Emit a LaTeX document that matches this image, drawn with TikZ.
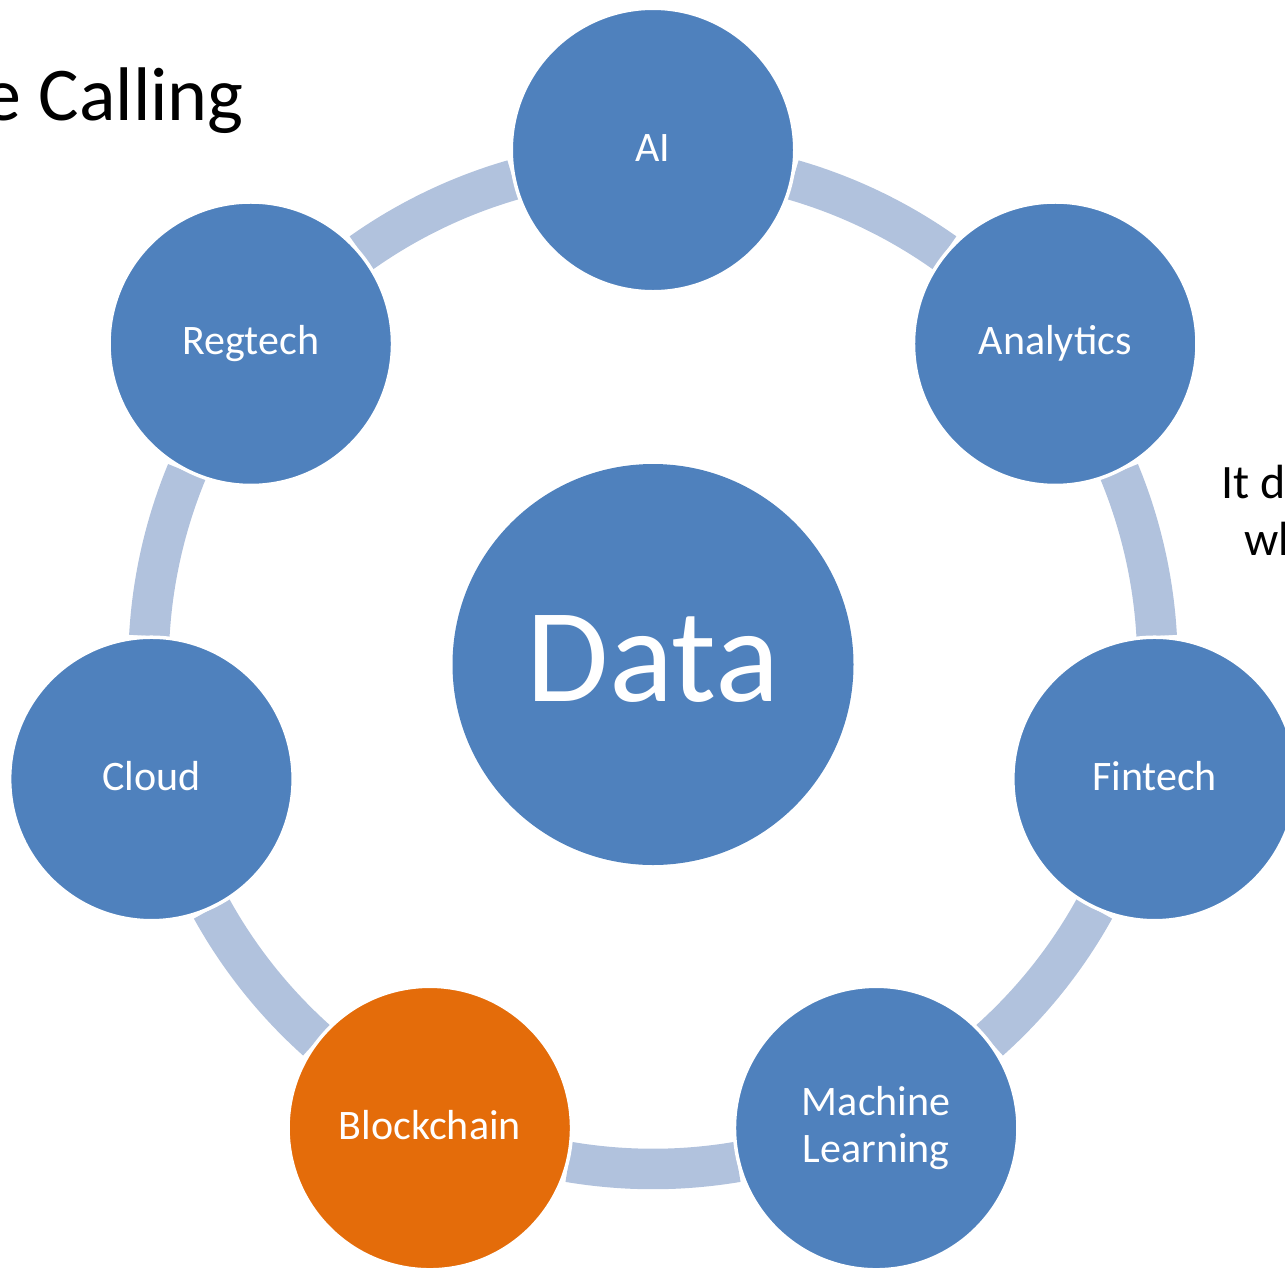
\documentclass[tikz,border=0pt]{standalone}
\usepackage{fontspec}
\setmainfont{Carlito}
\definecolor{nodeblue}{HTML}{4F81BD}
\definecolor{nodeorange}{HTML}{E46C0A}
\definecolor{ringblue}{HTML}{B1C2DD}
\begin{document}
\begin{tikzpicture}[x=1pt,y=1pt,
  outer/.style={circle, minimum size=283.5pt, inner sep=0pt, fill=nodeblue, draw=white,
    line width=3.5pt, text=white, font=\fontsize{42}{46.7}\selectfont,
    text height=33pt, text depth=10.5pt, align=center},
  hub/.style={circle, minimum size=401pt, inner sep=0pt, fill=nodeblue, text=white,
    font=\fontsize{134}{140}\selectfont, text height=108pt, text depth=33.5pt},
  ringarc/.style={draw=ringblue, line width=40.5pt, line cap=butt},
  sidetext/.style={inner sep=0pt, text=black}]
\useasboundingbox (0,-1267) rectangle (1285,0);
\clip (0,-1267) rectangle (1285,0);
\coordinate (O) at (653,-664.5);
% ring segments between the outer circles
\foreach \k in {0,...,6}{
  \pgfmathsetmacro\a{90-\k*360/7-16.1}
  \pgfmathsetmacro\b{90-(\k+1)*360/7+16.1}
  \draw[ringarc] ([shift={(\a:504.5)}]O) arc[start angle=\a, end angle=\b, radius=504.5pt];
}
% centre
\node[hub] (data) at (O) {Data};
% outer circles
\node[outer] (ai)         at ([shift={(90:514.5)}]O)       {AI};
\node[outer] (analytics)  at ([shift={(38.571:514.5)}]O)   {Analytics};
\node[outer] (fintech)    at ([shift={(-12.857:514.5)}]O)  {Fintech};
\node[outer, text height=79.7pt] (ml) at ([shift={(-64.286:514.5)}]O)  {Machine\\Learning};
\node[outer, fill=nodeorange] (blockchain) at ([shift={(-115.714:514.5)}]O) {Blockchain};
\node[outer] (cloud)      at ([shift={(-167.143:514.5)}]O) {Cloud};
\node[outer] (regtech)    at ([shift={(141.429:514.5)}]O)  {Regtech};
% cut-off texts at the edges
\node[sidetext, anchor=base east, font=\fontsize{76}{90}\selectfont] (title) at (244,-120) {e Calling};
\node[sidetext, anchor=base west, font=\fontsize{48}{57}\selectfont] (itd) at (1221,-498) {It d};
\node[sidetext, anchor=base west, font=\fontsize{48}{57}\selectfont] (wh) at (1244,-555) {wh};
\end{tikzpicture}
\end{document}
